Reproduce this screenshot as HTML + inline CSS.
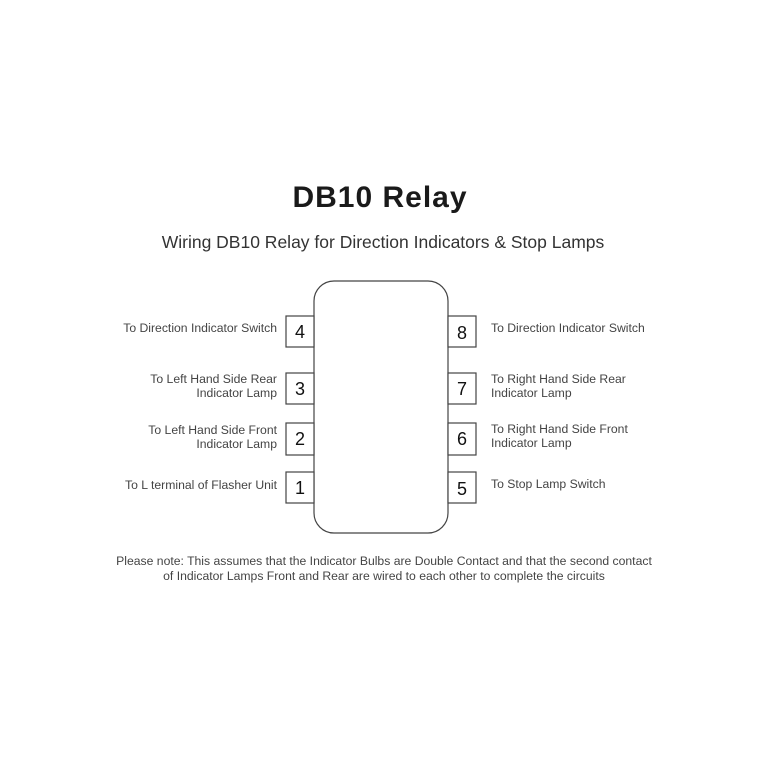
<!DOCTYPE html>
<html><head><style>
body{margin:0;background:#fff;}
svg{display:block}
text{font-family:"Liberation Sans",sans-serif;}
</style></head><body>
<svg width="768" height="768" xmlns="http://www.w3.org/2000/svg">
<text x="380" y="207" font-size="30" font-weight="bold" text-anchor="middle" fill="#1a1a1a" letter-spacing="1">DB10 Relay</text>
<text x="383" y="248" font-size="17.5" text-anchor="middle" fill="#333">Wiring DB10 Relay for Direction Indicators &amp; Stop Lamps</text>
<g fill="#fff" stroke="#444" stroke-width="1.2">
<rect x="314" y="281" width="134" height="252" rx="20"/>
<rect x="286" y="316" width="28" height="31"/>
<rect x="286" y="373" width="28" height="31"/>
<rect x="286" y="423" width="28" height="32"/>
<rect x="286" y="472" width="28" height="31"/>
<rect x="448" y="316" width="28" height="31"/>
<rect x="448" y="373" width="28" height="31"/>
<rect x="448" y="423" width="28" height="32"/>
<rect x="448" y="472" width="28" height="31"/>
</g>
<g font-size="18" fill="#111" text-anchor="middle">
<text x="300" y="338">4</text><text x="300" y="395">3</text><text x="300" y="445">2</text><text x="300" y="494">1</text>
<text x="462" y="339">8</text><text x="462" y="395">7</text><text x="462" y="445">6</text><text x="462" y="495">5</text>
</g>
<g font-size="12.2" fill="#444" text-anchor="end">
<text x="277" y="332">To Direction Indicator Switch</text>
<text x="277" y="383">To Left Hand Side Rear</text>
<text x="277" y="397">Indicator Lamp</text>
<text x="277" y="434">To Left Hand Side Front</text>
<text x="277" y="448">Indicator Lamp</text>
<text x="277" y="489">To L terminal of Flasher Unit</text>
</g>
<g font-size="12.2" fill="#444">
<text x="491" y="332">To Direction Indicator Switch</text>
<text x="491" y="383">To Right Hand Side Rear</text>
<text x="491" y="397">Indicator Lamp</text>
<text x="491" y="433">To Right Hand Side Front</text>
<text x="491" y="447">Indicator Lamp</text>
<text x="491" y="488">To Stop Lamp Switch</text>
</g>
<g font-size="12.2" fill="#444" text-anchor="middle">
<text x="384" y="565">Please note: This assumes that the Indicator Bulbs are Double Contact and that the second contact</text>
<text x="384" y="580">of Indicator Lamps Front and Rear are wired to each other to complete the circuits</text>
</g>
</svg>
</body></html>
